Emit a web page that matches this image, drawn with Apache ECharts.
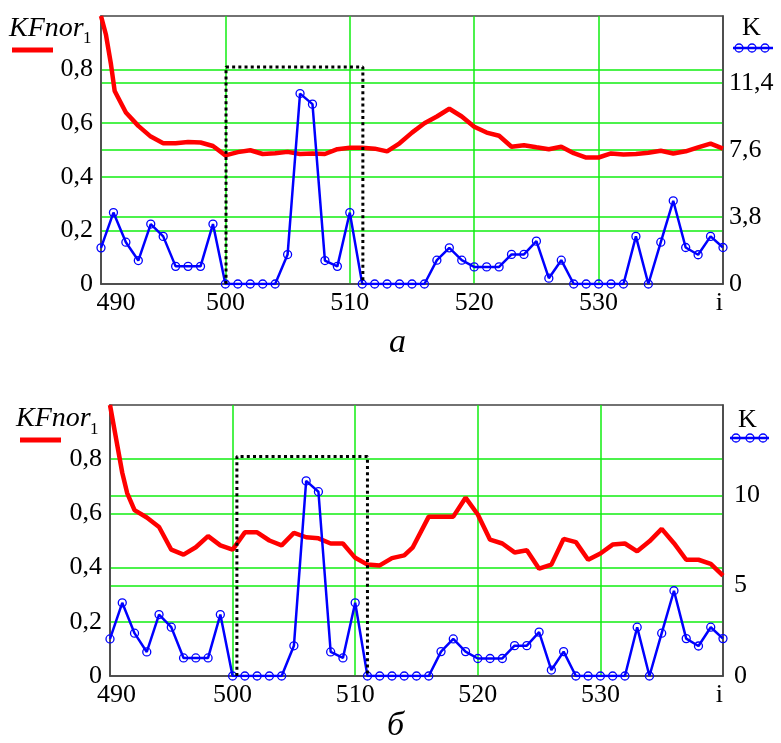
<!DOCTYPE html>
<html><head><meta charset="utf-8">
<script src="https://cdn.jsdelivr.net/npm/echarts@6/dist/echarts.min.js"></script>
<style>html,body{margin:0;padding:0;background:#fff}#c{width:781px;height:743px}</style>
</head><body><div id="c"></div>
<script>
// ---- data ----
const iValues = [490,491,492,493,494,495,496,497,498,499,500,501,502,503,504,505,506,507,508,509,510,511,512,513,514,515,516,517,518,519,520,521,522,523,524,525,526,527,528,529,530,531,532,533,534,535,536,537,538,539,540];
const kValues = [2.05,4.05,2.37,1.33,3.4,2.7,1.0,1.0,1.0,3.4,0,0,0,0,0,1.67,10.8,10.2,1.33,1.0,4.05,0,0,0,0,0,0,1.35,2.05,1.35,0.97,0.97,0.97,1.68,1.68,2.43,0.33,1.35,0,0,0,0,0,2.7,0,2.37,4.72,2.07,1.66,2.7,2.07];

const kfA_i = [490,490.4,490.8,491.1,492,493,494,495,496,497,498,499,500,501,502,503,504,505,506,507,508,509,510,511,512,513,514,515,516,517,518,519,520,521,522,523,524,525,526,527,528,529,530,531,532,533,534,535,536,537,538,539,540];
const kfA   = [1.0,0.93,0.82,0.72,0.64,0.59,0.55,0.525,0.525,0.53,0.528,0.515,0.48,0.492,0.499,0.485,0.488,0.493,0.485,0.487,0.485,0.503,0.508,0.508,0.505,0.495,0.525,0.565,0.60,0.625,0.654,0.625,0.587,0.565,0.553,0.512,0.518,0.51,0.503,0.512,0.488,0.472,0.472,0.487,0.483,0.485,0.49,0.497,0.487,0.495,0.51,0.524,0.505];

const kfB_i = [490,490.4,491,491.4,492,493,494,495,496,497,498,499,500,501,502,503,504,505,506,507,508,509,510,511,512,513,514,514.7,516,518,519,520,521,522,523,524,525,526,527,528,529,530,531,532,533,534,535,536,537,538,539,540];
const kfB   = [1.0,0.90,0.75,0.675,0.612,0.585,0.55,0.466,0.448,0.475,0.516,0.482,0.466,0.53,0.53,0.5,0.482,0.528,0.512,0.508,0.489,0.489,0.436,0.411,0.408,0.435,0.445,0.475,0.588,0.588,0.658,0.596,0.503,0.489,0.456,0.464,0.396,0.411,0.506,0.494,0.429,0.452,0.485,0.489,0.46,0.497,0.543,0.49,0.429,0.429,0.414,0.37];

const boxA_i = [500.05,500.05,511.05,511.05];
const boxA_v = [0,0.81,0.81,0];
const boxB_i = [500.35,500.35,511.0,511.0];
const boxB_v = [0,0.81,0.81,0];

const xTickValues = [490,500,510,520,530,540];
const xTickLabels = ['490','500','510','520','530','i'];
const leftTicks  = [0,0.2,0.4,0.6,0.8,1.0];
const rightTicksA = [0,3.8,7.6,11.4,15.2];
const rightTicksB = [0,5,10,15];

// ---- chart ----
const FONT = "'Liberation Serif', 'Times New Roman', serif";
const GREEN = '#11ee11';
const FRAME = '#444';
const zip = (a,b) => a.map((v,i)=>[v,b[i]]);
const comma = v => (Math.abs(v) < 1e-9 ? '0' : (+v.toFixed(1)).toString().replace('.', ','));

function xAxis(gi, padL) {
  return {
    type: 'value', gridIndex: gi, min: xTickValues[0], max: xTickValues[xTickValues.length-1], interval: 10,
    axisLine: {show: true, onZero: false, lineStyle: {color: FRAME, width: 1.5}},
    axisTick: {show: false},
    splitLine: {show: true, showMinLine: false, showMaxLine: false, lineStyle: {color: GREEN, width: 1.5}},
    axisLabel: {
      margin: 6, color: '#000', fontFamily: FONT, fontSize: 26, alignMaxLabel: 'right',
      formatter: v => { const k = xTickValues.indexOf(v); const t = k >= 0 ? xTickLabels[k] : ''; return k === 0 ? '{f|' + t + '}' : t; },
      rich: {f: {fontFamily: FONT, fontSize: 26, color: '#000', padding: [0,0,0,padL]}}
    }
  };
}
function yLeft(gi) {
  return {
    type: 'value', gridIndex: gi, position: 'left', min: leftTicks[0], max: leftTicks[leftTicks.length-1], interval: 0.2,
    axisLine: {show: true, lineStyle: {color: FRAME, width: 1.5}}, axisTick: {show: false},
    splitLine: {show: true, showMinLine: false, showMaxLine: false, lineStyle: {color: GREEN, width: 1.5}},
    axisLabel: {margin: 8, color: '#000', fontFamily: FONT, fontSize: 26, showMaxLabel: false, formatter: comma}
  };
}
function yRight(gi, ticks, margin) {
  return {
    type: 'value', gridIndex: gi, position: 'right', min: ticks[0], max: ticks[ticks.length-1], interval: ticks[1]-ticks[0],
    axisLine: {show: true, lineStyle: {color: FRAME, width: 1.5}}, axisTick: {show: false},
    splitLine: {show: true, showMinLine: false, showMaxLine: false, lineStyle: {color: GREEN, width: 1.5}},
    axisLabel: {margin: margin, color: '#000', fontFamily: FONT, fontSize: 26, showMaxLabel: false, formatter: comma}
  };
}
function redSeries(xi, yi, xs, ys) {
  return {type: 'line', xAxisIndex: xi, yAxisIndex: yi, data: zip(xs, ys), symbol: 'none', z: 3,
    lineStyle: {color: '#ff0000', width: 4.5}, animation: false};
}
function blueSeries(xi, yi) {
  return {type: 'line', xAxisIndex: xi, yAxisIndex: yi, data: zip(iValues, kValues), symbol: 'circle', symbolSize: 8, z: 4,
    lineStyle: {color: '#0000ff', width: 2.5},
    itemStyle: {color: 'rgba(255,255,255,0)', borderColor: '#0000ff', borderWidth: 1.3}, animation: false};
}
function boxSeries(xi, yi, xs, ys) {
  return {type: 'line', xAxisIndex: xi, yAxisIndex: yi, data: zip(xs, ys), symbol: 'none', z: 5,
    lineStyle: {color: '#000', width: 3, type: [3, 3.2]}, animation: false};
}

function legendLeft(x, y, subX, subY, lineY, lx1, lx2) {
  return [
    {type: 'text', left: x, top: y, style: {text: 'KFnor', font: "italic 28px 'Liberation Serif', serif", fill: '#000'}},
    {type: 'text', left: subX, top: subY, style: {text: '1', font: "17px 'Liberation Serif', serif", fill: '#000'}},
    {type: 'line', shape: {x1: lx1, y1: lineY, x2: lx2, y2: lineY}, style: {stroke: '#ff0000', lineWidth: 5}}
  ];
}
function legendRight(x, y, lineY, lx1, lx2, cxs) {
  const els = [
    {type: 'text', left: x, top: y, style: {text: 'K', font: "26px 'Liberation Serif', serif", fill: '#000'}},
    {type: 'line', shape: {x1: lx1, y1: lineY, x2: lx2, y2: lineY}, style: {stroke: '#0000ff', lineWidth: 2.5}}
  ];
  cxs.forEach(cx => els.push({type: 'circle', shape: {cx: cx, cy: lineY, r: 4}, style: {fill: 'rgba(255,255,255,0)', stroke: '#0000ff', lineWidth: 1.3}}));
  return els;
}

const chart = echarts.init(document.getElementById('c'), null, {renderer: 'canvas'});
chart.setOption({
  backgroundColor: '#fff',
  animation: false,
  textStyle: {fontFamily: FONT},
  grid: [
    {left: 101, top: 16, width: 622, height: 268, show: true, borderColor: FRAME, borderWidth: 1.5, backgroundColor: 'transparent'},
    {left: 110, top: 405, width: 613, height: 271, show: true, borderColor: FRAME, borderWidth: 1.5, backgroundColor: 'transparent'}
  ],
  xAxis: [xAxis(0, 30), xAxis(1, 13)],
  yAxis: [yLeft(0), yRight(0, rightTicksA, 6), yLeft(1), yRight(1, rightTicksB, 11)],
  series: [
    redSeries(0, 0, kfA_i, kfA), blueSeries(0, 1), boxSeries(0, 0, boxA_i, boxA_v),
    redSeries(1, 2, kfB_i, kfB), blueSeries(1, 3), boxSeries(1, 2, boxB_i, boxB_v)
  ],
  graphic: [].concat(
    legendLeft(9, 15, 83, 30, 50, 12, 53),
    legendLeft(16, 405, 90, 421, 440, 20, 61),
    legendRight(742, 15, 48, 733, 773, [739, 752, 765]),
    legendRight(738, 407, 438, 730, 769, [736, 750, 763]),
    [
      {type: 'text', left: 389, top: 326, style: {text: 'а', font: "italic 34px 'Liberation Serif', serif", fill: '#000'}},
      {type: 'text', left: 387, top: 709, style: {text: 'б', font: "italic 34px 'Liberation Serif', serif", fill: '#000'}}
    ]
  )
});
</script>
</body></html>
